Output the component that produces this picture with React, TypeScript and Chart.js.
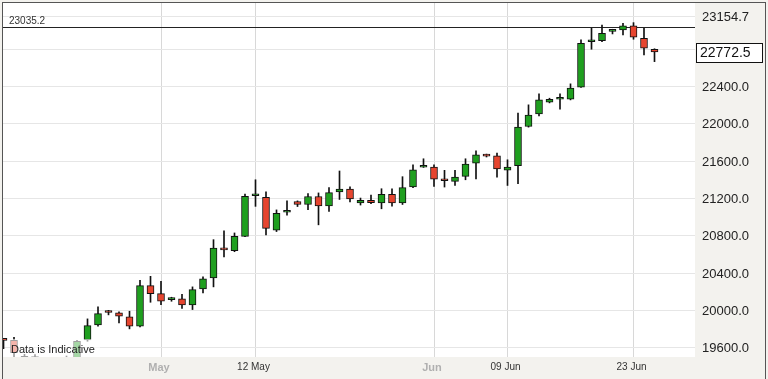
import React, { useEffect, useRef } from 'react';
import { Chart, registerables } from 'chart.js';

Chart.register(...registerables);

// ---- data (one candle per session, index 0..62) ----
const opens = [
  19682, 19681, 19510, 19420, 19480, 19300, 19390, 19455, 19684, 19846,
  19983, 19975, 19931, 19831, 20267, 20181, 20117, 20124, 20060, 20231,
  20349, 20670, 20641, 20794, 21230, 21212, 20862, 21053, 21168, 21136,
  21222, 21121, 21270, 21302, 21152, 21181, 21152, 21245, 21152, 21323,
  21535, 21537, 21394, 21383, 21437, 21580, 21658, 21658, 21505, 21551,
  21972, 22108, 22232, 22264, 22265, 22393, 22880, 22892, 22991, 23007,
  23050, 22918, 22800,
];
const highs = [
  19685, 19713, 19530, 19528, 19495, 19420, 19512, 19680, 19910, 20039,
  20002, 19985, 19992, 20323, 20366, 20313, 20142, 20174, 20253, 20360,
  20759, 20855, 20831, 21247, 21401, 21271, 21078, 21175, 21175, 21254,
  21260, 21318, 21495, 21324, 21205, 21238, 21305, 21305, 21434, 21562,
  21626, 21562, 21502, 21502, 21626, 21712, 21676, 21687, 21615, 22115,
  22204, 22321, 22275, 22321, 22429, 22900, 23025, 23060, 23014, 23078,
  23085, 23025, 22805,
];
const lows = [
  19590, 19505, 19300, 19280, 19250, 19150, 19340, 19420, 19670, 19831,
  19953, 19867, 19803, 19825, 20088, 20063, 20099, 20021, 20010, 20189,
  20253, 20574, 20630, 20790, 21116, 20811, 20846, 21022, 21114, 21080,
  20918, 21061, 21190, 21163, 21130, 21145, 21090, 21117, 21136, 21316,
  21533, 21330, 21323, 21340, 21401, 21409, 21645, 21430, 21340, 21358,
  21965, 22086, 22225, 22158, 22257, 22390, 22800, 22881, 22964, 22953,
  22907, 22739, 22667,
];
const closes = [
  19680, 19547, 19420, 19505, 19300, 19390, 19460, 19670, 19838, 19967,
  19978, 19938, 19831, 20267, 20181, 20099, 20120, 20060, 20224, 20338,
  20670, 20649, 20794, 21223, 21235, 20880, 21041, 21055, 21136, 21222,
  21121, 21264, 21302, 21195, 21181, 21156, 21245, 21152, 21316, 21508,
  21538, 21408, 21390, 21430, 21569, 21669, 21655, 21516, 21537, 21965,
  22093, 22257, 22264, 22266, 22383, 22864, 22883, 22971, 22993, 23050,
  22929, 22811, 22772.5,
];

const xTickIndex = [15, 24, 41, 48, 60];
const xTickLabels = ['May', '12 May', 'Jun', '09 Jun', '23 Jun'];
const monthLabels = ['May', 'Jun'];
const yTickValues = [19600, 20000, 20400, 20800, 21200, 21600, 22000, 22400, 22800, 23154.7];
const hiddenYLabel = 22800;
const referenceLevel = 23035.2;
const noticeText = 'Data is Indicative';

const Y_MIN = 19501.5;
const Y_MAX = 23295.5;
const X_MIN = -0.048;
const X_MAX = 65.857;

const GREEN = '#1f9f1f';
const RED = '#e6452f';

export default function App() {
  const canvasRef = useRef<HTMLCanvasElement | null>(null);

  useEffect(() => {
    document.body.style.margin = '0';
    const canvas = canvasRef.current;
    if (!canvas) return;

    const lastClose = closes[closes.length - 1];

    const bodies = opens.map((o, i) => ({ x: i, y: [o, closes[i]] }));
    const wicks = lows.map((l, i) => ({ x: i, y: [l, highs[i]] }));
    const bodyColors = opens.map((o, i) => (closes[i] >= o ? GREEN : RED));

    const decorPlugin = {
      id: 'decor',
      beforeDraw(chart: any) {
        const { ctx, chartArea } = chart;
        ctx.save();
        ctx.fillStyle = '#f3f2ee';
        ctx.fillRect(0, 0, chart.width, chart.height);
        ctx.fillStyle = '#ffffff';
        ctx.fillRect(chartArea.left, chartArea.top, chartArea.right - chartArea.left, chartArea.bottom - chartArea.top);
        ctx.restore();
      },
      beforeDatasetsDraw(chart: any) {
        const { ctx, chartArea, scales } = chart;
        const y = Math.round(scales.y.getPixelForValue(referenceLevel)) + 0.5;
        ctx.save();
        ctx.strokeStyle = '#222';
        ctx.lineWidth = 1;
        ctx.beginPath();
        ctx.moveTo(chartArea.left, y);
        ctx.lineTo(chartArea.right, y);
        ctx.stroke();
        ctx.fillStyle = '#333';
        ctx.font = '10px "Liberation Sans", Arial, sans-serif';
        ctx.textBaseline = 'alphabetic';
        ctx.textAlign = 'left';
        ctx.fillText(referenceLevel.toFixed(1), chartArea.left + 6, y - 4);
        ctx.restore();
      },
      afterDatasetsDraw(chart: any) {
        const { ctx, chartArea } = chart;
        ctx.save();
        ctx.fillStyle = 'rgba(255,255,255,0.6)';
        ctx.fillRect(chartArea.left + 7, chartArea.bottom - 18, 90, 18);
        ctx.fillStyle = '#222';
        ctx.font = '11px "Liberation Sans", Arial, sans-serif';
        ctx.textBaseline = 'alphabetic';
        ctx.textAlign = 'left';
        ctx.fillText(noticeText, chartArea.left + 8, chartArea.bottom - 4.5);
        ctx.restore();
      },
      afterDraw(chart: any) {
        const { ctx, chartArea, scales } = chart;
        const yc = scales.y.getPixelForValue(lastClose);
        const top = Math.round(yc - 8.5) + 0.5;
        ctx.save();
        ctx.fillStyle = '#ffffff';
        ctx.fillRect(chartArea.right + 1, top, 67, 19);
        ctx.strokeStyle = '#111';
        ctx.lineWidth = 1;
        ctx.strokeRect(chartArea.right + 1.5, top, 66, 19);
        ctx.fillStyle = '#111';
        ctx.font = '14px "Liberation Sans", Arial, sans-serif';
        ctx.textBaseline = 'middle';
        ctx.textAlign = 'left';
        ctx.fillText(lastClose.toFixed(1), chartArea.right + 5, top + 10);
        // outer frame
        ctx.strokeStyle = '#555';
        ctx.strokeRect(2.5, 2.5, 763, 390);
        ctx.restore();
      },
    };

    const chart = new Chart(canvas, {
      type: 'bar',
      data: {
        datasets: [
          {
            label: 'body',
            data: bodies as any,
            backgroundColor: bodyColors,
            borderColor: '#111',
            borderWidth: 1,
            borderSkipped: false,
            barThickness: 7,
            minBarLength: 2,
            grouped: false,
            order: 0,
          } as any,
          {
            label: 'wick',
            data: wicks as any,
            backgroundColor: '#111',
            borderWidth: 0,
            barThickness: 1,
            grouped: false,
            order: 1,
          } as any,
        ],
      },
      options: {
        animation: false,
        responsive: true,
        maintainAspectRatio: false,
        events: [],
        layout: { padding: { left: 3, top: 3, right: 0, bottom: 0 } },
        plugins: {
          legend: { display: false },
          tooltip: { enabled: false },
        },
        scales: {
          x: {
            type: 'linear',
            offset: false,
            min: X_MIN,
            max: X_MAX,
            afterBuildTicks: (scale: any) => {
              scale.ticks = xTickIndex.map((v) => ({ value: v }));
            },
            afterFit: (scale: any) => {
              scale.height = 22;
              scale.paddingLeft = 0;
              scale.paddingRight = 0;
            },
            grid: { color: '#d8d8d8', drawTicks: false, offset: false },
            border: { display: false },
            ticks: {
              autoSkip: false,
              maxRotation: 0,
              padding: 4,
              labelOffset: -2,
              callback: (_v: any, index: number) => xTickLabels[index],
              color: (ctx: any) => (monthLabels.includes(xTickLabels[ctx.index]) ? '#b0b0b0' : '#333'),
              font: (ctx: any) =>
                monthLabels.includes(xTickLabels[ctx.index])
                  ? { size: 11, weight: 'bold', family: '"Liberation Sans", Arial, sans-serif' }
                  : { size: 10, family: '"Liberation Sans", Arial, sans-serif' },
            },
          },
          y: {
            type: 'linear',
            position: 'right',
            min: Y_MIN,
            max: Y_MAX,
            afterBuildTicks: (scale: any) => {
              scale.ticks = yTickValues.map((v) => ({ value: v }));
            },
            afterFit: (scale: any) => {
              scale.width = 73;
              scale.paddingTop = 0;
              scale.paddingBottom = 0;
            },
            grid: { color: '#e6e6e6', drawTicks: false },
            border: { display: false },
            ticks: {
              autoSkip: false,
              padding: 7,
              labelOffset: 1,
              color: '#222',
              font: { size: 13, family: '"Liberation Sans", Arial, sans-serif' },
              callback: (v: any) => (Number(v) === hiddenYLabel ? '' : Number(v).toFixed(1)),
            },
          },
        },
      } as any,
      plugins: [decorPlugin],
    });

    return () => chart.destroy();
  }, []);

  return (
    <div style={{ width: 768, height: 379, position: 'relative' }}>
      <canvas ref={canvasRef} />
    </div>
  );
}
